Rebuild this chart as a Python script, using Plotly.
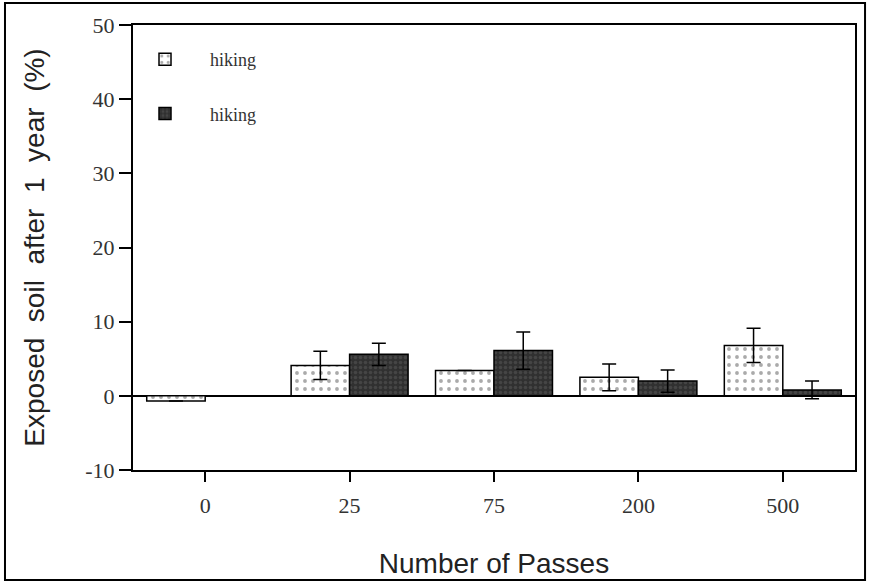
import plotly.graph_objects as go

passes = ["0", "25", "75", "200", "500"]
series_names = ["hiking", "hiking"]
light_vals = [-0.7, 4.1, 3.4, 2.5, 6.8]
light_err = [0, 1.9, 0, 1.8, 2.3]
dark_vals = [0.0, 5.6, 6.1, 2.0, 0.8]
dark_err = [0, 1.5, 2.5, 1.5, 1.2]
y_ticks = [-10, 0, 10, 20, 30, 40, 50]
y_tick_text = ["-10", "0", "10", "20", "30", "40", "50"]

fig = go.Figure()
fig.add_trace(go.Bar(
    x=passes, y=light_vals, name=series_names[0], legendgroup="a",
    marker=dict(color="white", line=dict(color="black", width=1.5),
                pattern=dict(shape=".", fgcolor="#555", bgcolor="white", size=8, solidity=0.18)),
    error_y=dict(type="data", array=light_err, color="black", thickness=1.5, width=7),
))
fig.add_trace(go.Bar(
    x=passes, y=dark_vals, name=series_names[1], legendgroup="b",
    marker=dict(color="#333", line=dict(color="black", width=1.5),
                pattern=dict(shape=".", fgcolor="#5a5a5a", bgcolor="#303030", size=5, solidity=0.4)),
    error_y=dict(type="data", array=dark_err, color="black", thickness=1.5, width=7),
))

serif = "Liberation Serif, Times New Roman, serif"
sans = "Liberation Sans, Arial, sans-serif"
nb = "\u00a0"
ytitle = f"Exposed{nb} soil{nb} after{nb} 1{nb} year{nb} (%)"

fig.update_layout(
    width=870, height=585,
    margin=dict(l=133, r=15, t=25, b=115),
    paper_bgcolor="white", plot_bgcolor="white",
    barmode="group", bargap=0.19, bargroupgap=0,
    showlegend=True,
    legend=dict(x=-0.018, y=0.964, xanchor="left", yanchor="top",
                font=dict(family=serif, size=18, color="#333"),
                bgcolor="rgba(0,0,0,0)", tracegroupgap=28, itemwidth=80),
    xaxis=dict(
        type="category", range=[-0.5, 4.5],
        showline=True, linecolor="black", linewidth=2, mirror=True,
        ticks="outside", ticklen=10, tickcolor="black", tickwidth=1.5,
        ticklabelstandoff=5,
        tickfont=dict(family=serif, size=22, color="#333"),
        title=dict(text="Number of Passes", font=dict(family=sans, size=28, color="#222"), standoff=36),
        showgrid=False,
    ),
    yaxis=dict(
        range=[-10, 50], tickvals=y_ticks, ticktext=y_tick_text,
        showline=True, linecolor="black", linewidth=2, mirror=True,
        ticks="outside", ticklen=12, tickcolor="black", tickwidth=1.5,
        ticklabelstandoff=0,
        tickfont=dict(family=serif, size=22, color="#333"),
        title=dict(text=ytitle, font=dict(family=sans, size=28, color="#222"), standoff=32),
        showgrid=False, zeroline=True, zerolinecolor="black", zerolinewidth=1.5,
    ),
)

# outer frame around the whole figure
fig.add_shape(type="rect", xref="paper", yref="paper",
              x0=-0.1773, x1=1.0139, y0=-0.2472, y1=1.0494,
              line=dict(color="black", width=2), fillcolor="rgba(0,0,0,0)", layer="below")

fig.write_html("out.html", config={"displayModeBar": False},
               post_script="document.body.style.margin='0';")
